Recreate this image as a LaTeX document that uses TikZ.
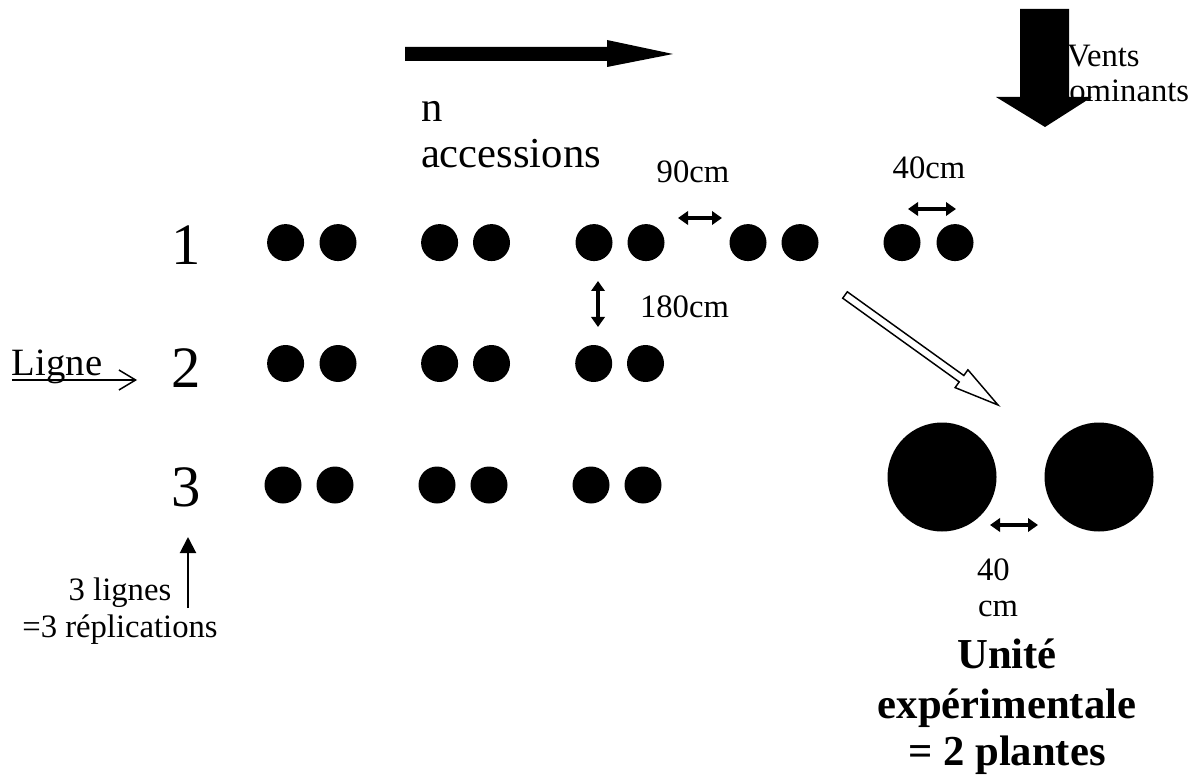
\documentclass[tikz,border=0pt]{standalone}
\usepackage{fontspec}
\setmainfont{Liberation Serif}
\usetikzlibrary{arrows.meta}
\begin{document}
\begin{tikzpicture}[x=0.75pt,y=-0.75pt,
  dot/.style={circle,fill=black,draw=none,minimum size=27.75pt,inner sep=0pt},
  bigdot/.style={circle,fill=black,draw=none,minimum size=81.75pt,inner sep=0pt},
  txt/.style={inner sep=0pt,outer sep=0pt},
  numlbl/.style={txt,anchor=base,font=\fontsize{44}{50}\selectfont},
  small/.style={txt,font=\fontsize{24.5}{28}\selectfont},
  mid/.style={txt,font=\fontsize{32}{36}\selectfont},
  boldlbl/.style={txt,anchor=base,font=\fontsize{32}{36}\selectfont\bfseries},
  dimarrow/.style={line width=3.2pt,{Triangle[length=7.5pt,width=10pt]}-{Triangle[length=7.5pt,width=10pt]}},
  bigarrow/.style={fill=black,draw=none},
  hollow/.style={fill=white,draw=black,line width=1.1pt,line join=miter}
]
\useasboundingbox (0,0) rectangle (1198,780);

% wind text (drawn first, partly covered by the arrow)
\node[small,anchor=base west] (vents) at (1067,67) {Vents};
\node[small,anchor=base west] (domin) at (1053,102) {dominants};

% wind arrow (down)
\path[bigarrow] (1020,9) -- (1069,9) -- (1069,97) -- (1092,97) -- (1045,127)
  -- (996,97) -- (1020,97) -- cycle;

% accessions arrow (right)
\path[bigarrow] (405,47) -- (607,47) -- (607,40) -- (673,54) -- (607,67)
  -- (607,61) -- (405,61) -- cycle;

\node[mid,anchor=base west] (n) at (421,122) {n};
\node[mid,anchor=base west] (acc) at (421,168) {accessions};

% row labels
\node[numlbl] (l1) at (186,265) {1};
\node[numlbl] (l2) at (186,387) {2};
\node[numlbl] (l3) at (186,506) {3};

% plants row 1
\foreach \x [count=\i] in {285.6,338,439.6,491.5,594,646,748,800,902,955}
  \node[dot] (ra\i) at (\x,242.6) {};
% row 2
\foreach \x [count=\i] in {285.6,338,439.6,491.5,593.7,645.5}
  \node[dot] (rb\i) at (\x,363.5) {};
% row 3
\foreach \x [count=\i] in {283,335,437,489,591,643}
  \node[dot] (rc\i) at (\x,485) {};

% dimension arrows
\coordinate (d90a) at (678,218); \coordinate (d90b) at (722,218);
\draw[dimarrow] (d90a) -- (d90b);
\node[small,anchor=base] (t90) at (693,183) {90cm};

\coordinate (d40a) at (908,209); \coordinate (d40b) at (956,209);
\draw[dimarrow] (d40a) -- (d40b);
\node[small,anchor=base] (t40) at (929,179) {40cm};

\coordinate (d180a) at (598,281); \coordinate (d180b) at (598,327);
\draw[dimarrow] (d180a) -- (d180b);
\node[small,anchor=base west] (t180) at (640,317) {180cm};

% Ligne arrow
\node[txt,anchor=base west,font=\fontsize{29}{33}\selectfont] (ligne) at (12,375) {Ligne};
\coordinate (lga) at (12,380); \coordinate (lgb) at (137,380);
\draw[line width=1.1pt,-{Straight Barb[length=12.5pt,width=15pt,line width=1.1pt]}] (lga) -- (lgb);

% replication arrow
\coordinate (rpa) at (188,608); \coordinate (rpb) at (188,537);
\draw[line width=1.5pt,-{Triangle[length=12pt,width=12pt]}] (rpa) -- (rpb);
\node[small,anchor=base] (lig3) at (120,600) {3 lignes};
\node[small,anchor=base] (rep3) at (120,637) {=3 réplications};

% hollow diagonal arrow
\path[hollow] (842.7,298.2) -- (847.3,291.8) -- (963.8,375.5) -- (967.9,369.8)
  -- (998,405) -- (955.1,387.6) -- (959.2,381.9) -- cycle;

% experimental unit
\node[bigdot] (p1) at (942,477) {};
\node[bigdot] (p2) at (1099,477) {};
\coordinate (ua) at (990,525); \coordinate (ub) at (1038,525);
\draw[dimarrow] (ua) -- (ub);
\node[small,anchor=base west] (u40) at (977,580) {40};
\node[small,anchor=base west] (ucm) at (978,616) {cm};

\node[boldlbl] (b1) at (1007,668) {Unité};
\node[boldlbl] (b2) at (1007,718) {expérimentale};
\node[boldlbl] (b3) at (1007,765) {= 2 plantes};
\end{tikzpicture}
\end{document}
